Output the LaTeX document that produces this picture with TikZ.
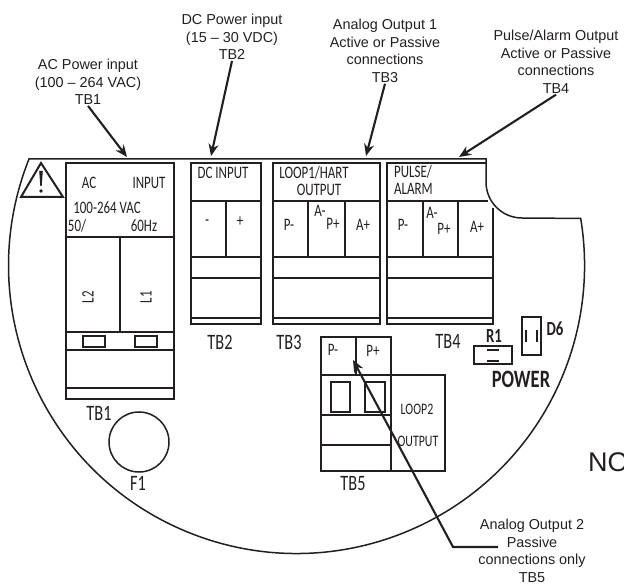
\documentclass[tikz,border=0pt]{standalone}
\usepackage{fontspec}
\usepackage{tikz}
\usetikzlibrary{shapes,arrows,arrows.meta,positioning}
\setmainfont{Liberation Sans}
\newfontfamily\condfont[FakeStretch=0.74]{Carlito}
\definecolor{inkdark}{HTML}{231F20}

\begin{document}
\begin{tikzpicture}[x=1pt, y=-1pt, auto, color=inkdark]
    % Define styles
    \tikzstyle{housing} = [draw=inkdark, line width=1.5pt]
    \tikzstyle{block} = [draw=inkdark, line width=1.6pt]
    \tikzstyle{callout} = [draw=inkdark, line width=2.1pt, -{Stealth[length=12pt, width=10pt]}]
    \tikzstyle{note} = [text=inkdark, align=center, inner sep=1pt, font=\fontsize{14.4}{17.5}\selectfont]
    \tikzstyle{cell} = [text=inkdark, inner sep=0pt, font=\condfont\fontsize{17.5}{19}\selectfont]
    \tikzstyle{smallcell} = [text=inkdark, inner sep=0pt, font=\condfont\fontsize{16}{18}\selectfont]
    \tikzstyle{tag} = [text=inkdark, inner sep=0pt, font=\condfont\fontsize{22}{24}\selectfont]
    \tikzstyle{boldtag} = [text=inkdark, inner sep=0pt, font=\condfont\bfseries\fontsize{20}{22}\selectfont]

    \useasboundingbox (0,0) rectangle (624,585);

    % Housing
    \draw[housing] (29,159) arc (201.7:-9.4:288) -- (522,218) arc (90:180:36) -- (486,159) -- cycle;

    % Warning triangle
    \draw[block, line width=2pt, line join=miter] (41,163) -- (63,197) -- (21,197) -- cycle;
    \fill[inkdark] (39.2,171) -- (42.8,171) -- (41.7,186) -- (40.3,186) -- cycle;
    \fill[inkdark] (41,191) circle (1.8);

    % TB1
    \draw[block] (66,163) rectangle (174,399);
    \draw[block] (66,237) -- (174,237);
    \draw[block] (120,237) -- (120,332);
    \draw[block] (66,332) -- (174,332);
    \draw[block] (66,350) -- (174,350);
    \draw[block] (66,388) -- (174,388);
    \draw[block] (83,336) rectangle (105,347);
    \draw[block] (135,336) rectangle (157,347);

    % TB2
    \draw[block] (191,163) rectangle (261,324);
    \draw[block] (191,201) -- (261,201);
    \draw[block] (226,201) -- (226,257);
    \draw[block] (191,257) -- (261,257);
    \draw[block] (191,278) -- (261,278);
    \draw[block] (191,318) -- (261,318);

    % TB3
    \draw[block] (273,163) rectangle (380,324);
    \draw[block] (273,201) -- (380,201);
    \draw[block] (308,201) -- (308,257);
    \draw[block] (345,201) -- (345,257);
    \draw[block] (273,257) -- (380,257);
    \draw[block] (273,278) -- (380,278);
    \draw[block] (273,318) -- (380,318);

    % TB4
    \draw[block] (486,163) -- (387,163) -- (387,324) -- (493,324) -- (493,208);
    \draw[block] (387,201) -- (488,201);
    \draw[block] (423,201) -- (423,257);
    \draw[block] (458,201) -- (458,257);
    \draw[block] (387,257) -- (493,257);
    \draw[block] (387,278) -- (493,278);
    \draw[block] (387,318) -- (493,318);

    % TB5
    \draw[block] (321,337) rectangle (391,471);
    \draw[block] (356,337) -- (356,375);
    \draw[block] (321,375) -- (445,375) -- (445,471) -- (391,471);
    \draw[block] (321,415) -- (391,415);
    \draw[block] (321,445) -- (391,445);
    \draw[block] (331,382) rectangle (350,412);
    \draw[block] (365,382) rectangle (385,412);

    % F1, R1, D6
    \draw[housing] (139,442) circle (30);
    \draw[block] (474,346) rectangle (512,364);
    \draw[block] (487,350) -- (499,350);
    \draw[block] (487,361) -- (499,361);
    \draw[block] (522,317) rectangle (541,355);
    \draw[block] (526,330) -- (526,342);
    \draw[block] (537,330) -- (537,342);

    % Nodes
    \node[cell] (acword) at (89,183) {AC};
    \node[cell] (inputword) at (149,183) {INPUT};
    \node[cell] (acrange) at (107,208) {100-264 VAC};
    \node[cell] (acfifty) at (77,226) {50/};
    \node[cell] (acsixty) at (144,226) {60Hz};
    \node[cell, rotate=90] (ltwo) at (88,297) {L2};
    \node[cell, rotate=90] (lone) at (146,297) {L1};
    \node[cell] (dcword) at (223,173) {DC INPUT};
    \node[cell] (dcminus) at (207,223) {-};
    \node[cell] (dcplus) at (240,222) {+};
    \node[cell] (loopone) at (314,173) {LOOP1/HART};
    \node[cell] (loopout) at (319,190) {OUTPUT};
    \node[cell] (tbthreepm) at (289,225) {P-};
    \node[cell] (tbthreeam) at (320,211) {A-};
    \node[cell] (tbthreepp) at (333,224) {P+};
    \node[cell] (tbthreeap) at (363,225) {A+};
    \node[cell] (pulseword) at (394,172) [anchor=west] {PULSE/};
    \node[cell] (alarmword) at (394,189) [anchor=west] {ALARM};
    \node[cell] (tbfourpm) at (403,225) {P-};
    \node[cell] (tbfouram) at (432,213) {A-};
    \node[cell] (tbfourpp) at (444,229) {P+};
    \node[cell] (tbfourap) at (477,227) {A+};
    \node[cell] (tbfivepm) at (333,350) {P-};
    \node[cell] (tbfivepp) at (373,351) {P+};
    \node[smallcell] (looptwo) at (417,409) {LOOP2};
    \node[smallcell] (looptwoout) at (418,441) {OUTPUT};

    \node[tag] (tbone) at (99,413) {TB1};
    \node[tag] (tbtwo) at (220,342) {TB2};
    \node[tag] (tbthree) at (289,342) {TB3};
    \node[tag] (tbfour) at (448,341) {TB4};
    \node[tag] (tbfive) at (353,484) {TB5};
    \node[tag] (fuse) at (138,483) {F1};
    \node[boldtag] (rone) at (494,336) {R1};
    \node[boldtag] (dsix) at (555,329) {D6};
    \node[boldtag, font=\condfont\bfseries\fontsize{25}{27}\selectfont] (power) at (521,379) {POWER};

    \node[note] (aclabel) at (88,82) {AC Power input\\(100 -- 264 VAC)\\TB1};
    \node[note] (dclabel) at (232,37) {DC Power input\\(15 -- 30 VDC)\\TB2};
    \node[note] (analogone) at (385,51) {Analog Output 1\\Active or Passive\\connections\\TB3};
    \node[note] (pulselabel) at (556,62) {Pulse/Alarm Output\\Active or Passive\\connections\\TB4};
    \node[note] (analogtwo) at (532,551) {Analog Output 2\\Passive\\connections only\\TB5};
    \node[text=inkdark, inner sep=0pt, anchor=west, font=\fontsize{27}{29}\selectfont] (noword) at (588,462) {NO};

    % Arrow ends
    \coordinate (actip) at (127,157);
    \coordinate (dctip) at (211,156);
    \coordinate (onetip) at (366,156);
    \coordinate (pulsetip) at (459,157);
    \coordinate (fivetip) at (353,360);
    \coordinate (fivebend) at (453,547);
    \coordinate (fivetail) at (498,547);

    % Connections
    \draw[callout] (aclabel.south) -- (actip);
    \draw[callout] (dclabel.south) -- (dctip);
    \draw[callout] (analogone.south) -- (onetip);
    \draw[callout] (pulselabel.south) -- (pulsetip);
    \draw[callout] (fivetail) -- (fivebend) -- (fivetip);
\end{tikzpicture}
\end{document}
